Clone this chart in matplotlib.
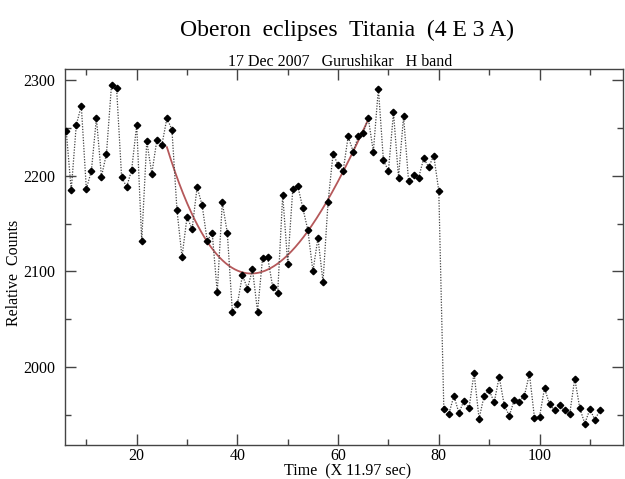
import numpy as np
import matplotlib
matplotlib.use("Agg")
import matplotlib.pyplot as plt
from matplotlib.ticker import MultipleLocator

# Frame index (x 11.97 s) and relative counts
frames = np.arange(6, 113)
counts = np.array([
    2247, 2185, 2253, 2273, 2186, 2205, 2260, 2199, 2223, 2295,   # 6-15
    2292, 2199, 2188, 2206, 2253, 2132, 2236, 2202, 2237, 2232,   # 16-25
    2260, 2248, 2164, 2115, 2157, 2144, 2188, 2169, 2132, 2140,   # 26-35
    2078, 2172, 2140, 2058, 2066, 2096, 2082, 2102, 2058, 2114,   # 36-45
    2115, 2084, 2077, 2180, 2108, 2186, 2189, 2166, 2143, 2100,   # 46-55
    2135, 2089, 2172, 2223, 2211, 2205, 2241, 2225, 2241, 2245,   # 56-65
    2260, 2225, 2291, 2216, 2205, 2266, 2198, 2262, 2194, 2201,   # 66-75
    2198, 2218, 2209, 2221, 2184, 1956, 1951, 1970, 1952, 1965,   # 76-85
    1957, 1994, 1946, 1970, 1976, 1963, 1990, 1960, 1949, 1966,   # 86-95
    1964, 1970, 1993, 1947, 1948, 1978, 1961, 1955, 1960, 1955,   # 96-105
    1951, 1988, 1957, 1941, 1956, 1945, 1955,                     # 106-112
])

# Smooth trend through the eclipse dip
fit_x = np.array([26, 34, 39, 41.7, 45.6, 48, 54, 58, 63, 66])
fit_y = np.array([2230, 2132, 2100, 2097, 2105, 2109, 2143, 2172, 2225, 2260])

title = "Oberon  eclipses  Titania  (4 E 3 A)"
subtitle = "17 Dec 2007   Gurushikar   H band"
xlabel = "Time  (X 11.97 sec)"
ylabel = "Relative  Counts"

plt.rcParams["font.family"] = ["Liberation Serif", "DejaVu Serif"]

fig = plt.figure(figsize=(6.25, 4.79), dpi=100)
ax = fig.add_axes([0.1035, 0.071, 0.894, 0.7857])

ax.plot(frames, counts, linestyle=(0, (1, 1.2)), color="#444444", lw=0.9,
        marker="D", markersize=3.3, markerfacecolor="black",
        markeredgecolor="black", zorder=3)

coef = np.polyfit(fit_x, fit_y, 3)
xs = np.linspace(fit_x[0], fit_x[-1], 200)
ax.plot(xs, np.polyval(coef, xs), color="#b5585a", lw=1.3, zorder=2)

ax.set_xlim(5.7, 116.67)
ax.set_ylim(1918.6, 2311.8)

ax.xaxis.set_major_locator(MultipleLocator(20))
ax.xaxis.set_minor_locator(MultipleLocator(10))
ax.yaxis.set_major_locator(MultipleLocator(100))
ax.yaxis.set_minor_locator(MultipleLocator(50))
ax.tick_params(which="both", direction="in", top=True, right=True,
               color="#444444", width=1.0, labelsize=11.5)
ax.tick_params(which="major", length=8)
ax.tick_params(which="minor", length=4.5)
ax.tick_params(axis="x", pad=2)
ax.tick_params(axis="y", pad=7)
for s in ax.spines.values():
    s.set_color("#444444")
    s.set_linewidth(1.0)

fig.text(0.556, 0.016, xlabel, fontsize=11.5, ha="center", va="center")
fig.text(0.022, 0.43, ylabel, rotation=90, fontsize=11.5,
         ha="center", va="center")
fig.text(0.555, 0.937, title, fontsize=17, ha="center", va="center")
fig.text(0.545, 0.871, subtitle, fontsize=11.5, ha="center", va="center")

fig.savefig("out.png", dpi=100)
